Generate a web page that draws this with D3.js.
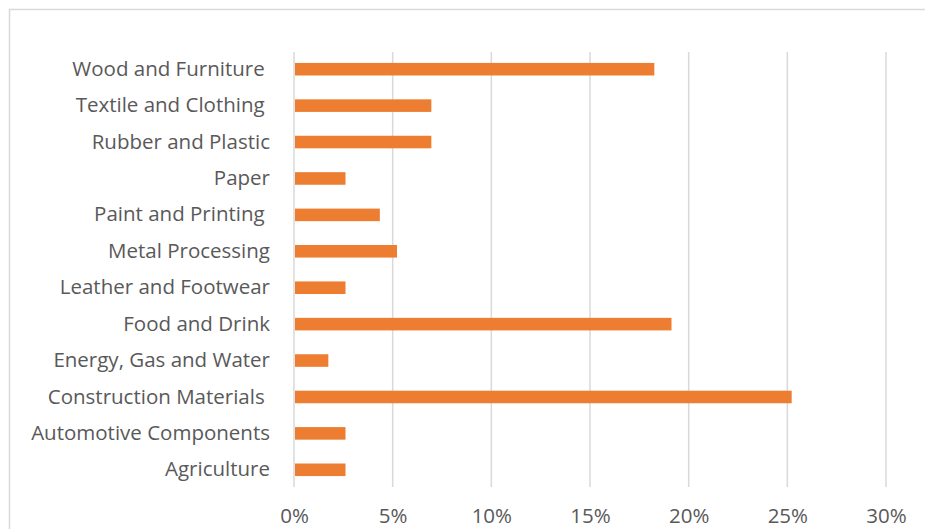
<!DOCTYPE html>
<html>
<head>
<meta charset="utf-8">
<script src="https://cdn.jsdelivr.net/npm/d3@7"></script>
<style>
  html, body { margin: 0; padding: 0; background: #fff; }
  svg { display: block; }
</style>
</head>
<body>
<svg id="chart" width="925" height="529"></svg>
<script>
/* ---------- data (top to bottom) ------------------------------ */
const sectors = [
  "Wood and Furniture ", "Textile and Clothing ", "Rubber and Plastic", "Paper",
  "Paint and Printing ", "Metal Processing", "Leather and Footwear", "Food and Drink",
  "Energy, Gas and Water", "Construction Materials ", "Automotive Components", "Agriculture"
];
const shares = [
  0.1826, 0.0696, 0.0696, 0.0261,
  0.0435, 0.0522, 0.0261, 0.1913,
  0.0174, 0.2522, 0.0261, 0.0261
];
const xTicks = [0, 0.05, 0.10, 0.15, 0.20, 0.25, 0.30];

/* ---------- layout -------------------------------------------- */
const W = 925, H = 529;
const margin = {top: 52, right: 39, bottom: 42, left: 294};
const font = "'Open Sans', sans-serif";
const fontSize = 20.5;

const svg = d3.select("#chart");

// chart-area frame (right and bottom run off the picture)
svg.append("rect")
   .attr("x", 9.5).attr("y", 9.5)
   .attr("width", W + 20).attr("height", H + 20)
   .attr("fill", "none")
   .attr("stroke", "#d9d9d9")
   .attr("stroke-width", 1.5);

const x = d3.scaleLinear()
    .domain([0, 0.30])
    .range([margin.left, W - margin.right]);

const y = d3.scaleBand()
    .domain(sectors)
    .range([margin.top, H - margin.bottom])
    .paddingInner(0.655)
    .paddingOuter(0.3);

/* ---------- gridlines ----------------------------------------- */
svg.append("g")
   .selectAll("line")
   .data(xTicks)
   .join("line")
     .attr("x1", d => x(d)).attr("x2", d => x(d))
     .attr("y1", margin.top).attr("y2", H - margin.bottom)
     .attr("stroke", "#d9d9d9")
     .attr("stroke-width", 1.5);

/* ---------- bars ---------------------------------------------- */
svg.append("g")
   .selectAll("rect")
   .data(sectors)
   .join("rect")
     .attr("x", x(0) + 1)
     .attr("y", d => y(d))
     .attr("width", (d, i) => x(shares[i]) - x(0) - 1)
     .attr("height", y.bandwidth())
     .attr("fill", "#ed7d31");

/* ---------- axes (labels only) -------------------------------- */
const yAxis = svg.append("g")
    .attr("transform", `translate(${margin.left - 24},0)`)
    .call(d3.axisLeft(y).tickSize(0).tickPadding(0));
yAxis.select(".domain").remove();
yAxis.selectAll("text")
    .style("white-space", "pre")
    .attr("xml:space", "preserve")
    .attr("font-family", font)
    .attr("font-size", fontSize)
    .attr("fill", "#595959");

const xAxis = svg.append("g")
    .attr("transform", `translate(0,${H - margin.bottom})`)
    .call(d3.axisBottom(x).tickValues(xTicks).tickFormat(d3.format(".0%")).tickSize(0).tickPadding(21));
xAxis.select(".domain").remove();
xAxis.selectAll("text")
    .attr("font-family", font)
    .attr("font-size", fontSize)
    .attr("fill", "#595959");
</script>
</body>
</html>
